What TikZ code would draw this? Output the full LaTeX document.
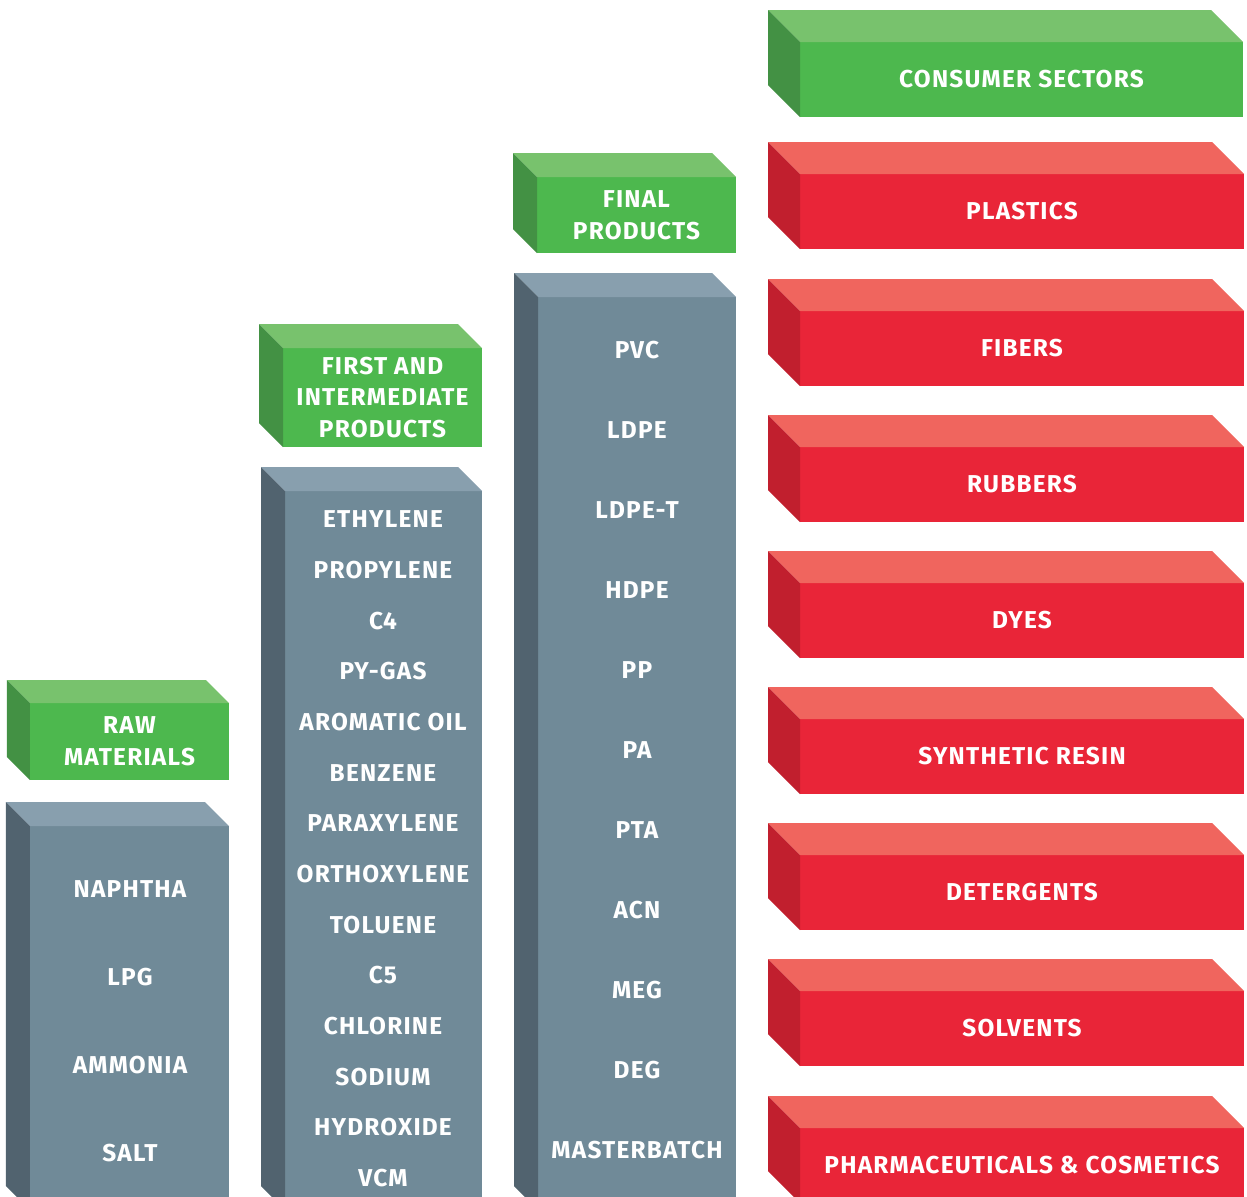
\documentclass[tikz,border=0pt]{standalone}
\usepackage{fontspec}
\setmainfont[LetterSpace=5]{Fira Sans}
\usetikzlibrary{calc}
\definecolor{grfront}{RGB}{77,184,78}
\definecolor{grtop}{RGB}{120,194,109}
\definecolor{grside}{RGB}{67,145,68}
\definecolor{rdfront}{RGB}{233,37,56}
\definecolor{rdtop}{RGB}{240,101,94}
\definecolor{rdside}{RGB}{193,31,46}
\definecolor{gyfront}{RGB}{112,138,152}
\definecolor{gytop}{RGB}{136,159,174}
\definecolor{gyside}{RGB}{81,99,111}

% top and left faces of a block drawn from its front node
\newcommand{\slab}[4]{%
  \fill[#3] (#1.north west) -- ++(-#2,-#2) -- ($(#1.north east)+(-#2,-#2)$) -- (#1.north east) -- cycle;
  \fill[#4] (#1.north west) -- ++(-#2,-#2) -- ($(#1.south west)+(-#2,-#2)$) -- (#1.south west) -- cycle;
}

\begin{document}
\begin{tikzpicture}[
  x=1bp, y=-1bp,
  face/.style={rectangle, inner sep=0pt, outer sep=0pt, text=white, align=center,
               font=\bfseries\fontsize{24.5}{32}\selectfont},
  head/.style={face, fill=grfront},
  sector/.style={face, fill=rdfront, minimum width=444bp, minimum height=75bp},
  column/.style={face, fill=gyfront},
  item/.style={text=white, inner sep=0pt, font=\bfseries\fontsize{24.5}{32}\selectfont}
]
  \useasboundingbox (0,0) rectangle (1247,1197);
  \clip (0,0) rectangle (1247,1197);

  % headers
  \node[head, minimum width=199bp, minimum height=77bp](raw) at (129.5,741.5){RAW\\MATERIALS};
  \node[head, minimum width=199bp, minimum height=99bp](first) at (382.5,397.5){FIRST AND\\INTERMEDIATE\\PRODUCTS};
  \node[head, minimum width=199bp, minimum height=76bp](final) at (636.5,215){FINAL\\PRODUCTS};
  \node[head, minimum width=443bp, minimum height=75bp](cons) at (1021.5,79.5){CONSUMER SECTORS};
  \slab{raw}{23}{grtop}{grside}
  \slab{first}{24}{grtop}{grside}
  \slab{final}{24}{grtop}{grside}
  \slab{cons}{32}{grtop}{grside}

  % columns
  \node[column, minimum width=199bp, minimum height=384bp](colA) at (129.5,1018){};
  \node[column, minimum width=197bp, minimum height=719bp](colB) at (383.5,850.5){};
  \node[column, minimum width=198bp, minimum height=913bp](colC) at (637,753.5){};
  \slab{colA}{24}{gytop}{gyside}
  \slab{colB}{24}{gytop}{gyside}
  \slab{colC}{24}{gytop}{gyside}

  % consumer sectors
  \node[sector](plast) at (1022,211.5){PLASTICS};
  \node[sector](fib) at (1022,348.5){FIBERS};
  \node[sector](rub) at (1022,484.5){RUBBERS};
  \node[sector](dye) at (1022,620.5){DYES};
  \node[sector](resin) at (1022,756.5){SYNTHETIC RESIN};
  \node[sector](deter) at (1022,892.5){DETERGENTS};
  \node[sector](solv) at (1022,1028.5){SOLVENTS};
  \node[sector](pharm) at (1022,1165.5){PHARMACEUTICALS \& COSMETICS};
  \foreach \s in {plast,fib,rub,dye,resin,deter,solv,pharm}{\slab{\s}{32}{rdtop}{rdside}}

  % raw materials
  \node[item](naph) at (130,889){NAPHTHA};
  \node[item](lpg) at (130,977){LPG};
  \node[item](amm) at (130,1065){AMMONIA};
  \node[item](salt) at (130,1153){SALT};

  % first and intermediate products
  \node[item](eth) at (383,519){ETHYLENE};
  \node[item](prop) at (383,570){PROPYLENE};
  \node[item](cfour) at (383,621){C4};
  \node[item](pygas) at (383,671){PY-GAS};
  \node[item](arom) at (383,722){AROMATIC OIL};
  \node[item](benz) at (383,773){BENZENE};
  \node[item](para) at (383,823){PARAXYLENE};
  \node[item](ortho) at (383,874){ORTHOXYLENE};
  \node[item](tol) at (383,925){TOLUENE};
  \node[item](cfive) at (383,975){C5};
  \node[item](chlor) at (383,1026){CHLORINE};
  \node[item](sod) at (383,1077){SODIUM};
  \node[item](hydr) at (383,1127){HYDROXIDE};
  \node[item](vcm) at (383,1178){VCM};

  % final products
  \node[item](pvc) at (637,350){PVC};
  \node[item](ldpe) at (637,430){LDPE};
  \node[item](ldpet) at (637,510){LDPE-T};
  \node[item](hdpe) at (637,590){HDPE};
  \node[item](pp) at (637,670){PP};
  \node[item](pa) at (637,750){PA};
  \node[item](pta) at (637,830){PTA};
  \node[item](acn) at (637,910){ACN};
  \node[item](meg) at (637,990){MEG};
  \node[item](deg) at (637,1070){DEG};
  \node[item](mbatch) at (637,1150){MASTERBATCH};
\end{tikzpicture}
\end{document}
